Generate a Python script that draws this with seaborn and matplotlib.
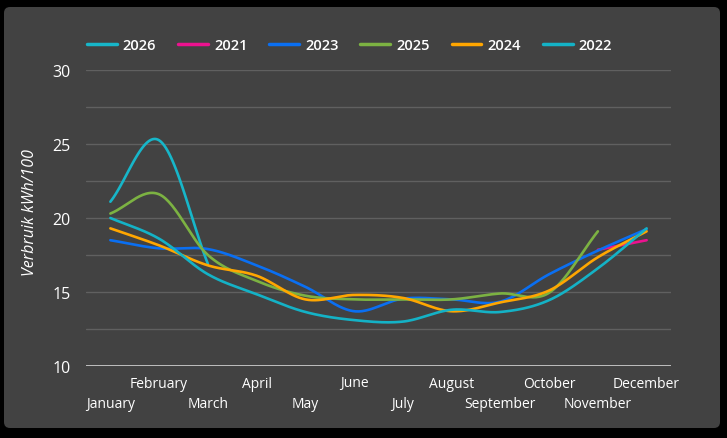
import numpy as np
import pandas as pd
import matplotlib
matplotlib.use("Agg")
import matplotlib.pyplot as plt
from matplotlib.patches import FancyBboxPatch
import seaborn as sns

months = ["January", "February", "March", "April", "May", "June", "July",
          "August", "September", "October", "November", "December"]

v2026 = [21.1, 25.25, 16.9]
v2021 = [None] * 10 + [17.85, 18.5]
v2023 = [18.5, 17.95, 17.9, 16.8, 15.35, 13.7, 14.55, 14.5, 14.35, 16.2, 17.8, 19.25]
v2025 = [20.3, 21.6, 17.5, 15.75, 14.75, 14.5, 14.5, 14.5, 14.9, 14.95, 19.1]
v2024 = [19.3, 18.15, 16.8, 16.1, 14.5, 14.8, 14.6, 13.7, 14.3, 15.1, 17.35, 19.1]
v2022 = [20.0, 18.6, 16.2, 14.85, 13.65, 13.1, 13.0, 13.8, 13.65, 14.45, 16.6, 19.3]

series = [
    ("2026", v2026, "#17b6c9"),
    ("2021", v2021, "#ec128f"),
    ("2023", v2023, "#0a6ff2"),
    ("2025", v2025, "#7cb242"),
    ("2024", v2024, "#ffa600"),
    ("2022", v2022, "#14b2c6"),
]

yticks = [10, 15, 20, 25, 30]
ylabel = "Verbruik kWh/100"


def smooth(xs, ys, n=30, t=0.5):
    """Cardinal (Catmull-Rom) spline through the points, for drawing."""
    xs = np.asarray(xs, float)
    ys = np.asarray(ys, float)
    if len(xs) < 2:
        return xs, ys
    px, py = [], []
    for i in range(len(xs) - 1):
        x0, y0 = xs[max(i - 1, 0)], ys[max(i - 1, 0)]
        x1, y1 = xs[i], ys[i]
        x2, y2 = xs[i + 1], ys[i + 1]
        x3, y3 = xs[min(i + 2, len(xs) - 1)], ys[min(i + 2, len(xs) - 1)]
        m1 = t * (y2 - y0) / max(x2 - x0, 1e-9) * (x2 - x1)
        m2 = t * (y3 - y1) / max(x3 - x1, 1e-9) * (x2 - x1)
        s = np.linspace(0, 1, n, endpoint=(i == len(xs) - 2))
        h00 = 2 * s**3 - 3 * s**2 + 1
        h10 = s**3 - 2 * s**2 + s
        h01 = -2 * s**3 + 3 * s**2
        h11 = s**3 - s**2
        px.append(x1 + s * (x2 - x1))
        py.append(h00 * y1 + h10 * 2 * m1 + h01 * y2 + h11 * 2 * m2)
    return np.concatenate(px), np.concatenate(py)


sns.set_theme(style="dark")
plt.rcParams["font.family"] = ["Open Sans", "DejaVu Sans"]

W, H = 727, 439
fig = plt.figure(figsize=(W / 100, H / 100), dpi=100, facecolor="black")
panel_color = "#424242"
bg = fig.add_axes([0, 0, 1, 1], zorder=-5)
bg.set_axis_off()
bg.set_xlim(0, W)
bg.set_ylim(H, 0)
bg.add_patch(FancyBboxPatch((4, 8), 716, 421,
                            boxstyle="round,pad=0,rounding_size=6",
                            facecolor=panel_color, edgecolor="none"))

ax = fig.add_axes([86 / W, 1 - 367 / H, (671 - 86) / W, (367 - 71) / H], zorder=1)
ax.set_facecolor("none")

for name, vals, col in series:
    idx = [i for i, v in enumerate(vals) if v is not None]
    ys = [vals[i] for i in idx]
    sx, sy = smooth(idx, ys)
    df = pd.DataFrame({"x": sx, "y": sy})
    sns.lineplot(data=df, x="x", y="y", ax=ax, color=col, linewidth=1.9,
                 label=name, sort=False, estimator=None, zorder=3)

ax.set_xlim(-0.5, 11.5)
ax.set_ylim(10, 30)
ax.set_yticks(yticks)
ax.set_yticks([12.5, 17.5, 22.5, 27.5], minor=True)
ax.grid(True, axis="y", which="both", color="#606060", linewidth=1.0)
ax.grid(False, axis="x")
ax.set_axisbelow(True)
ax.axhline(10, color="#c8c8c8", linewidth=1.3, zorder=1)
for sp in ax.spines.values():
    sp.set_visible(False)

ax.set_xticks(range(12))
ax.set_xticklabels([])
ax.tick_params(axis="both", which="both", length=0)
ax.tick_params(axis="y", colors="white", labelsize=11.5, pad=11)
for lab in ax.get_yticklabels():
    lab.set_color("white")
for i, m in enumerate(months):
    yoff = -17 if i % 2 == 1 else -38
    ax.annotate(m, xy=(i, 10), xycoords="data", xytext=(0, yoff),
                textcoords="offset pixels", ha="center", va="center",
                color="white", fontsize=10, annotation_clip=False)

ax.set_xlabel("")
ax.set_ylabel("")
fig.text(30 / W, 1 - 213 / H, ylabel, rotation=90, ha="center", va="center",
         color="white", fontsize=11.5, style="italic")

leg = ax.legend(loc="upper left", bbox_to_anchor=(74 / W, 1 - 26 / H),
                bbox_transform=fig.transFigure, ncol=6, frameon=False,
                handlelength=2.05, handletextpad=0.4, columnspacing=1.5,
                prop={"size": 10.5, "weight": "semibold"}, labelcolor="white")
for t in leg.get_texts():
    t.set_color("white")
for l in leg.get_lines():
    l.set_linewidth(2.5)

fig.savefig("out.png", dpi=100, facecolor="black")
